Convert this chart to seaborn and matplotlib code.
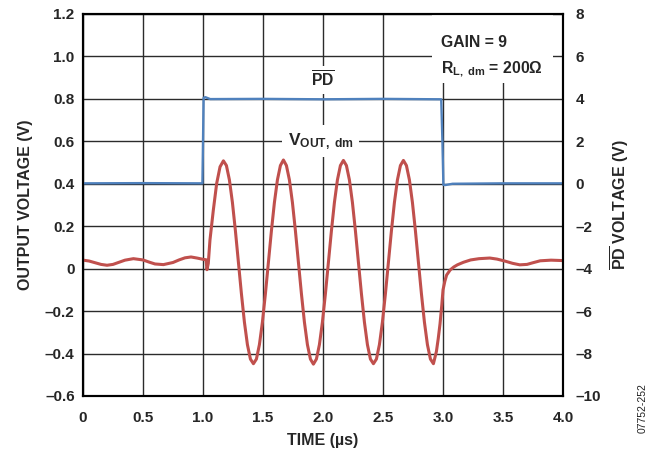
import matplotlib
matplotlib.use('Agg')
import matplotlib.pyplot as plt
from matplotlib.patches import Rectangle
import seaborn as sns

# time axis and tick labels
time_ticks = [0, 0.5, 1.0, 1.5, 2.0, 2.5, 3.0, 3.5, 4.0]
time_tick_labels = ['0', '0.5', '1.0', '1.5', '2.0', '2.5', '3.0', '3.5', '4.0']
vout_ticks = [-0.6, -0.4, -0.2, 0, 0.2, 0.4, 0.6, 0.8, 1.0, 1.2]
vout_tick_labels = ['–0.6', '–0.4', '–0.2', '0', '0.2', '0.4', '0.6', '0.8', '1.0', '1.2']
pd_ticks = [-10, -8, -6, -4, -2, 0, 2, 4, 6, 8]
pd_tick_labels = ['–10', '–8', '–6', '–4', '–2', '0', '2', '4', '6', '8']

# PD (power-down) pulse, right axis (V)
pd_time = [0.0, 0.5, 0.995, 1.0, 1.005, 1.02, 1.06, 1.5, 2.0, 2.5, 2.985, 2.995, 3.003, 3.02, 3.08, 3.5, 4.0]
pd_volts = [0.02, 0.03, 0.02, 2.0, 4.05, 4.08, 3.99, 4.0, 3.98, 4.0, 3.98, 2.0, -0.05, -0.06, 0.0, 0.02, 0.02]

# differential output voltage, left axis (V)
vout_time = [
    0.00, 0.05, 0.10, 0.15, 0.20, 0.25, 0.30, 0.35, 0.42, 0.50,
    0.55, 0.60, 0.67, 0.75, 0.80, 0.85, 0.90, 0.95, 1.00, 1.025,
    1.033, 1.044, 1.058, 1.086, 1.114, 1.142, 1.170,
    1.195, 1.220, 1.245, 1.270, 1.295, 1.320, 1.345, 1.370, 1.395, 1.420,
    1.445, 1.470, 1.495, 1.520, 1.545, 1.570, 1.595, 1.620, 1.645, 1.670,
    1.695, 1.720, 1.745, 1.770, 1.795, 1.820, 1.845, 1.870, 1.895, 1.920,
    1.945, 1.970, 1.995, 2.020, 2.045, 2.070, 2.095, 2.120, 2.145, 2.170,
    2.195, 2.220, 2.245, 2.270, 2.295, 2.320, 2.345, 2.370, 2.395, 2.420,
    2.445, 2.470, 2.495, 2.520, 2.545, 2.570, 2.595, 2.620, 2.645, 2.670,
    2.695, 2.720, 2.745, 2.770, 2.795, 2.820, 2.845, 2.870, 2.895, 2.920,
    2.945, 2.960, 2.975, 2.990, 3.000, 3.015, 3.030, 3.060, 3.090, 3.120,
    3.170, 3.230, 3.300, 3.390, 3.450, 3.520, 3.580, 3.640, 3.700, 3.750,
    3.810, 3.900, 4.000,
]
vout_volts = [
    0.040, 0.036, 0.028, 0.020, 0.016, 0.020, 0.030, 0.040, 0.047, 0.041,
    0.031, 0.022, 0.019, 0.029, 0.041, 0.051, 0.055, 0.050, 0.044, 0.042,
    -0.005, 0.025, 0.135, 0.276, 0.402, 0.480, 0.508,
    0.486, 0.418, 0.312, 0.178, 0.030, -0.118, -0.252, -0.358, -0.426, -0.448,
    -0.426, -0.358, -0.252, -0.118, 0.030, 0.178, 0.312, 0.418, 0.486, 0.512,
    0.486, 0.418, 0.312, 0.178, 0.030, -0.118, -0.252, -0.358, -0.426, -0.450,
    -0.426, -0.358, -0.252, -0.118, 0.030, 0.178, 0.312, 0.418, 0.486, 0.510,
    0.486, 0.418, 0.312, 0.178, 0.030, -0.118, -0.252, -0.358, -0.426, -0.448,
    -0.426, -0.358, -0.252, -0.118, 0.030, 0.178, 0.312, 0.418, 0.486, 0.510,
    0.486, 0.418, 0.312, 0.178, 0.030, -0.118, -0.252, -0.358, -0.426, -0.448,
    -0.390, -0.330, -0.260, -0.170, -0.100, -0.060, -0.030, -0.006, 0.008, 0.018,
    0.030, 0.041, 0.047, 0.050, 0.045, 0.035, 0.025, 0.018, 0.020, 0.028,
    0.037, 0.040, 0.038,
]

RED = '#C0504D'
BLUE = '#4F81BD'
GRID = '#2b2b2b'
FS_TICK = 11
FS_LABEL = 11.5
FS_NOTE = 11.3

sns.set_style('white')
plt.rcParams['font.family'] = ['Liberation Sans', 'DejaVu Sans']
plt.rcParams['mathtext.fontset'] = 'custom'
plt.rcParams['mathtext.rm'] = 'Liberation Sans:bold'
plt.rcParams['mathtext.bf'] = 'Liberation Sans:bold'
plt.rcParams['mathtext.it'] = 'Liberation Sans:bold'

fig = plt.figure(figsize=(6.5, 4.54), dpi=100)
ax = fig.add_axes([0.1277, 0.1278, 0.7385, 0.8414])

# grid
ax.set_axisbelow(True)
ax.grid(True, color=GRID, linewidth=1.0)

# output voltage
sns.lineplot(x=vout_time, y=vout_volts, ax=ax, color=RED, linewidth=2.2,
             sort=False, estimator=None)
ax.lines[-1].set_solid_joinstyle('round')

ax.set_xlim(0, 4)
ax.set_ylim(-0.6, 1.2)
ax.set_xticks(time_ticks)
ax.set_xticklabels(time_tick_labels, fontweight='bold', fontsize=FS_TICK)
ax.set_yticks(vout_ticks)
ax.set_yticklabels(vout_tick_labels, fontweight='bold', fontsize=FS_TICK)
ax.tick_params(axis='both', length=0)
ax.tick_params(axis='x', pad=10.5)
ax.tick_params(axis='y', pad=6)

ax.set_xlabel('TIME (µs)', fontweight='bold', fontsize=FS_LABEL)
ax.xaxis.set_label_coords(0.5, -0.098)
ax.set_ylabel('OUTPUT VOLTAGE (V)', fontweight='bold', fontsize=FS_LABEL)
ax.yaxis.set_label_coords(-0.105, 0.5)

# PD axis
ax2 = ax.twinx()
sns.lineplot(x=pd_time, y=pd_volts, ax=ax2, color=BLUE, linewidth=1.7,
             sort=False, estimator=None)
ax2.set_ylim(-10, 8)
ax2.set_yticks(pd_ticks)
ax2.set_yticklabels(pd_tick_labels, fontweight='bold', fontsize=FS_TICK)
ax2.tick_params(axis='y', length=0, pad=9)
ax2.set_ylabel(r'$\overline{\mathbf{PD}}$ VOLTAGE (V)', fontweight='bold', fontsize=FS_LABEL)
ax2.yaxis.set_label_coords(1.094, 0.5)

for a in (ax, ax2):
    for s in a.spines.values():
        s.set_color('black')
        s.set_linewidth(1.5)

# annotation boxes
ax.add_patch(Rectangle((0.727, 0.819), 0.252, 0.181, transform=ax.transAxes,
                       facecolor='white', edgecolor='none', zorder=1))
ax.text(2.983, 1.065, 'GAIN = 9', fontweight='bold', fontsize=FS_NOTE,
        ha='left', va='center', zorder=3)
ax.text(2.983, 0.94, r'$\mathbf{R}_{\mathbf{L,\ dm}}$ = 200Ω', fontweight='bold',
        fontsize=FS_NOTE, ha='left', va='center', zorder=3)

ax.text(2.0, 0.889, r'$\overline{\mathbf{PD}}$', fontsize=FS_NOTE, ha='center', va='center',
        zorder=3, bbox=dict(facecolor='white', edgecolor='none', pad=3))
ax.text(1.98, 0.6, r'$\mathbf{V}_{\mathbf{OUT,\ dm}}$', fontsize=12.5, ha='center',
        va='center', zorder=3, bbox=dict(facecolor='white', edgecolor='none', pad=4))

fig.text(0.989, 0.1013, '07752-252', rotation=90, fontsize=7.5, ha='center',
         va='center', color='#222222')

fig.savefig('out.png', dpi=100)
